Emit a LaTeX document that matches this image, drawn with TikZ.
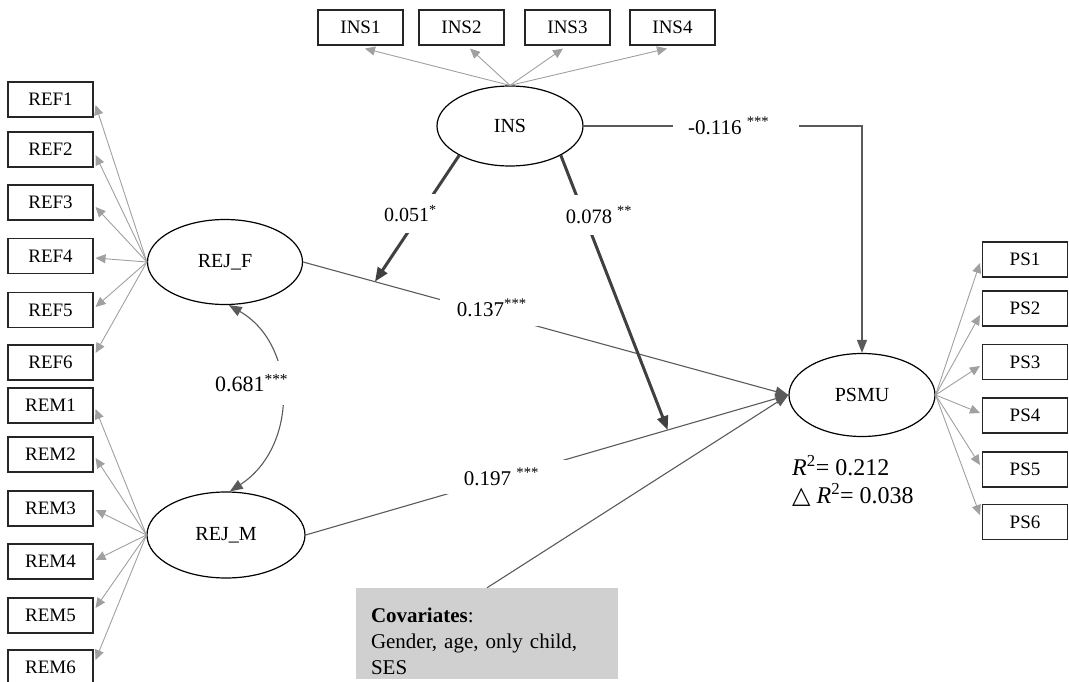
\documentclass[tikz,border=0pt]{standalone}
\usepackage{fontspec}
\setmainfont{Liberation Serif}
\newfontfamily\symfont{DejaVu Sans}
\usetikzlibrary{shapes.geometric,arrows.meta,calc}
\definecolor{loadc}{HTML}{A0A0A0}
\definecolor{pathc}{HTML}{5A5A5A}
\definecolor{modc}{HTML}{404040}
\definecolor{covc}{HTML}{D0D0D0}
\begin{document}
\begin{tikzpicture}[x=1pt,y=-1pt,
  ind/.style={draw=black!85, line width=1.1pt, minimum width=85pt, minimum height=35pt, inner sep=0pt, font=\fontsize{19}{21}\selectfont},
  lat/.style={ellipse, draw=black, line width=1.2pt, inner sep=0pt, font=\fontsize{20}{22}\selectfont},
  load/.style={draw=loadc, line width=0.9pt, -{Triangle[length=10pt,width=9pt]}},
  reg/.style={draw=pathc, line width=1.1pt, -{Triangle[length=13pt,width=10pt]}},
  cor/.style={draw=pathc, line width=1.1pt, {Triangle[length=13pt,width=10pt]}-{Triangle[length=13pt,width=10pt]}},
  mod/.style={draw=modc, line width=3pt, -{Triangle[length=14pt,width=11pt]}},
  lab/.style={fill=white, font=\fontsize{21}{23}\selectfont}
]
\useasboundingbox (0,0) rectangle (1069,682);

% latent variables
\node[lat, minimum width=146pt, minimum height=80pt] (ins) at (510,126) {INS};
\node[lat, minimum width=155pt, minimum height=85pt] (f) at (225,262) {REJ\_F};
\node[lat, minimum width=158pt, minimum height=86pt] (m) at (226,535) {REJ\_M};
\node[lat, minimum width=146pt, minimum height=83pt] (p) at (862,395) {PSMU};

% indicators
\foreach \n/\y/\o in {1/99.5/5.5, 2/149.5/5.5, 3/202.5/4.5, 4/256/2, 5/310/-3, 6/362.5/-9.5}{
  \node[ind] (ref\n) at (50.5,\y) {REF\n};
  \draw[load] (f.west) -- ($(ref\n.east)+(2,\o)$);
}
\foreach \n/\y/\o in {1/405.5/3.5, 2/454.5/3.5, 3/508.5/1.5, 4/561.5/-1.5, 5/615.5/-7.5, 6/667.5/-7.5}{
  \node[ind] (rem\n) at (50.5,\y) {REM\n};
  \draw[load] (m.west) -- ($(rem\n.east)+(2,\o)$);
}
\foreach \n/\y/\o in {1/259.5/3.5, 2/308.5/6.5, 3/362/4, 4/415.5/-2.5, 5/469.5/-4.5, 6/522/-7}{
  \node[ind] (ps\n) at (1025,\y) {PS\n};
  \draw[load] (p.east) -- ($(ps\n.west)+(-2,\o)$);
}
\foreach \n/\x/\o in {1/360.5/4.5, 2/461.5/8.5, 3/567.5/-4.5, 4/672.5/-5.5}{
  \node[ind] (ins\n) at (\x,27.5) {INS\n};
  \draw[load] (ins.north) -- ($(ins\n.south)+(\o,3)$);
}

% covariates
\node[fill=covc, minimum width=262pt, minimum height=91pt, text width=232pt, align=left, inner sep=0pt, font=\fontsize{21}{26}\selectfont] (cov) at (487,633.5) {\rule{0pt}{30pt}\textbf{Covariates}:\\Gender, age, only child,\\SES};

% structural paths
\coordinate (m1) at ($(f.east)!0.148!(p.west)$);
\coordinate (m2) at ($(m.east)!0.75!(p.west)$);
\draw[reg] (f.east) -- node[lab, pos=0.389, yshift=6pt, inner xsep=17pt, inner ysep=10pt]{0.137\textsuperscript{***}} (p.west);
\draw[reg] (m.east) -- node[lab, pos=0.414, xshift=-4pt, inner xsep=27pt, inner ysep=8pt]{0.197 \textsuperscript{***}} (p.west);
\draw[reg] (cov.north) -- (p.west);
\draw[reg] (ins.east) -| node[lab, pos=0.274, inner xsep=15pt]{-0.116 \textsuperscript{***}\kern15pt} (p.north);

% moderation
\draw[mod] (ins.210) -- node[lab, pos=0.46, xshift=-10pt, inner xsep=2pt, inner ysep=11pt, font=\fontsize{20}{22}\selectfont]{0.051\textsuperscript{*}} (m1);
\draw[mod] (ins.330) -- node[lab, pos=0.217, xshift=15pt, inner xsep=2pt, inner ysep=11pt, font=\fontsize{20.5}{22}\selectfont]{0.078 \textsuperscript{**}} (m2);

% correlation
\draw[cor] (f.275) .. controls (298,345) and (298,447) .. node[lab, pos=0.47, xshift=-29pt, yshift=7pt, inner xsep=2pt, inner ysep=13pt, font=\fontsize{22}{24}\selectfont]{0.681\textsuperscript{***}} (m.85);

% R squared
\node[anchor=north west, align=left, inner sep=0pt, font=\fontsize{24}{28}\selectfont] (r2) at (792,455) {\textit{R}\textsuperscript{2}= 0.212\\{\symfont △} \textit{R}\textsuperscript{2}= 0.038};
\end{tikzpicture}
\end{document}
